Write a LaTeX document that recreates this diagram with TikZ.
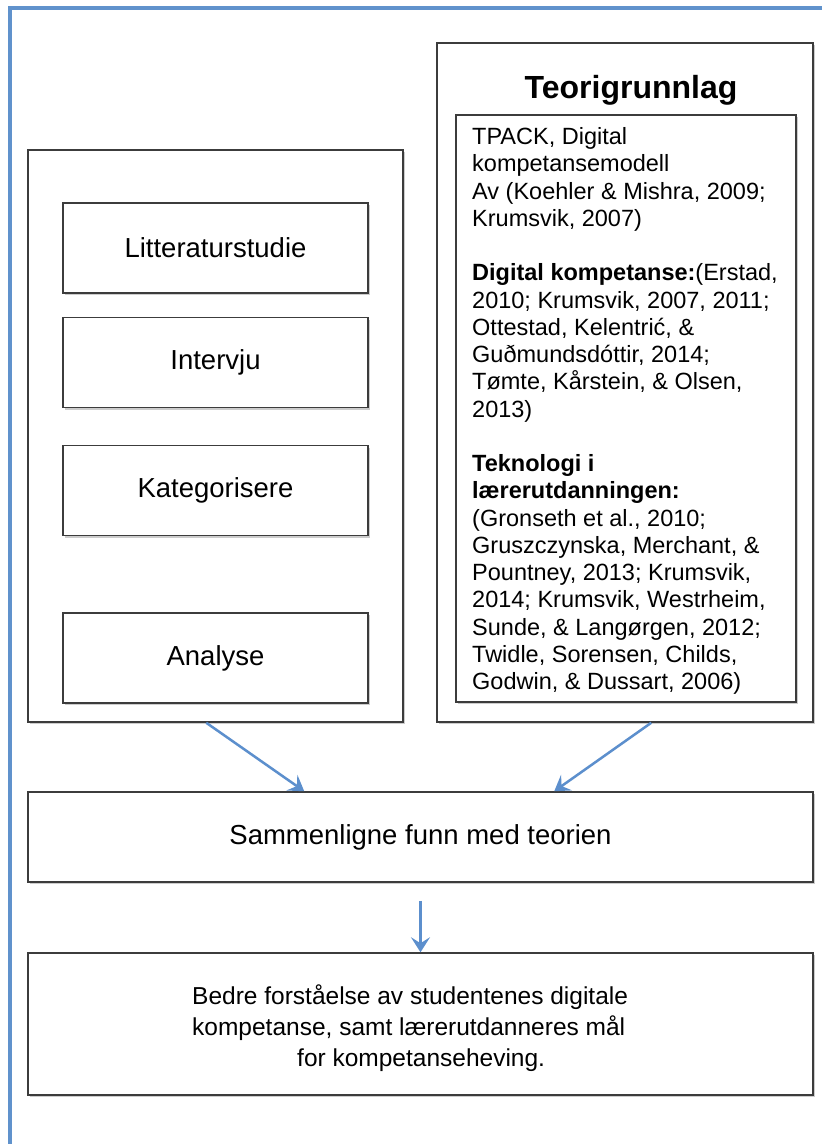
\documentclass[tikz,border=0pt]{standalone}
\usepackage{fontspec}
\setmainfont{Liberation Sans}
\usetikzlibrary{arrows.meta,shadows}
\definecolor{frameblue}{RGB}{96,146,204}
\definecolor{arrowblue}{RGB}{92,143,205}
\definecolor{boxgray}{RGB}{60,60,60}
\begin{document}
\begin{tikzpicture}[x=1pt,y=-1pt,
  box/.style={draw=boxgray, line width=1.5pt, fill=white, inner sep=0pt,
    drop shadow={shadow xshift=1.5pt,shadow yshift=-2pt,opacity=0.4}},
  lbl/.style={font=\fontsize{27.5}{32}\selectfont},
  arr/.style={draw=arrowblue, line width=2.5pt, -{Stealth[length=15pt,width=19pt,inset=6pt]}}]
\useasboundingbox (0,0) rectangle (822,1144);
\clip (0,0) rectangle (822,1144);
\fill[white] (0,0) rectangle (822,1144);
\draw[frameblue, line width=4pt] (10,8) rectangle (900,1200);

\node[box, minimum width=375pt, minimum height=572pt] (left) at (215.5,436) {};
\node[box, minimum width=376pt, minimum height=679pt] (right) at (625,382.5) {};
\node[box, minimum width=340pt, minimum height=587pt] (refs) at (626,408.5) {};

\node[box, lbl, minimum width=305pt, minimum height=90pt] (lit) at (215.5,248) {Litteraturstudie};
\node[box, lbl, minimum width=305pt, minimum height=90pt] (int) at (215.5,362.5) {Intervju};
\node[box, lbl, minimum width=305pt, minimum height=90pt] (kat) at (215.5,490.5) {Kategorisere};
\node[box, lbl, minimum width=305pt, minimum height=90pt] (ana) at (215.5,658) {Analyse};

\node[font=\bfseries\fontsize{32}{38}\selectfont, anchor=base, inner sep=0pt] (title) at (631,98) {Teorigrunnlag};

\node[anchor=north west, align=left, inner sep=0pt, font=\fontsize{23.5}{27.25}\selectfont] (reftext) at (472,127.5) {%
TPACK, Digital\\
kompetansemodell\\
Av (Koehler \& Mishra, 2009;\\
Krumsvik, 2007)\\[27.25pt]
\textbf{Digital kompetanse:}(Erstad,\\
2010; Krumsvik, 2007, 2011;\\
Ottestad, Kelentrić, \&\\
Guðmundsdóttir, 2014;\\
Tømte, Kårstein, \& Olsen,\\
2013)\\[27.25pt]
\textbf{Teknologi i}\\
\textbf{lærerutdanningen:}\\
(Gronseth et al., 2010;\\
Gruszczynska, Merchant, \&\\
Pountney, 2013; Krumsvik,\\
2014; Krumsvik, Westrheim,\\
Sunde, \& Langørgen, 2012;\\
Twidle, Sorensen, Childs,\\
Godwin, \& Dussart, 2006)};

\node[box, lbl, minimum width=785pt, minimum height=90pt] (cmp) at (420.5,837) {Sammenligne funn med teorien};
\node[box, minimum width=785pt, minimum height=142pt] (res) at (420.5,1024) {};
\node[anchor=west, align=left, inner sep=0pt, font=\fontsize{24.5}{31}\selectfont] (restext) at (192,1028) {%
Bedre forståelse av studentenes digitale\\
kompetanse, samt lærerutdanneres mål\\
\hspace*{105pt}for kompetanseheving.};

\draw[arr] ([xshift=179pt]left.south west) -- ([xshift=277pt]cmp.north west);
\draw[arr] ([xshift=215pt]right.south west) -- ([xshift=527pt]cmp.north west);
\draw[arr] ([yshift=-18pt]cmp.south) -- (res.north);
\end{tikzpicture}
\end{document}
